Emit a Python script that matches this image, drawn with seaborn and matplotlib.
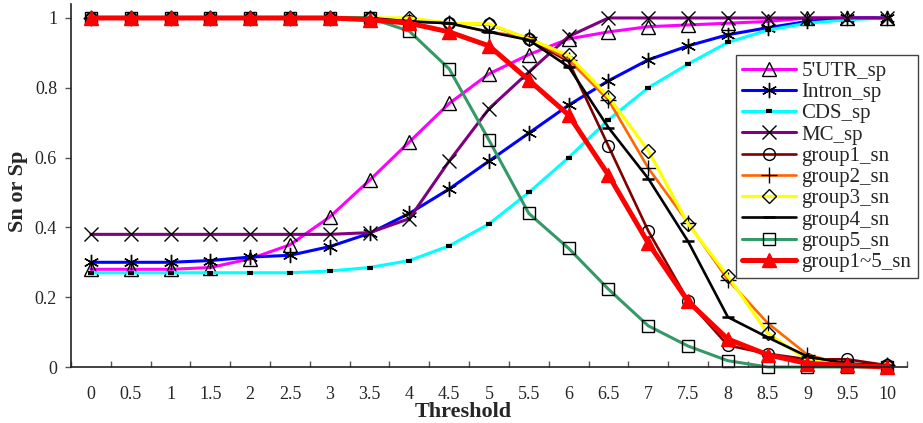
import numpy as np
import pandas as pd
import matplotlib
matplotlib.use("Agg")
import matplotlib.pyplot as plt
import seaborn as sns

thresholds = [0, 0.5, 1, 1.5, 2, 2.5, 3, 3.5, 4, 4.5, 5,
              5.5, 6, 6.5, 7, 7.5, 8, 8.5, 9, 9.5, 10]
tick_labels = ["0", "0.5", "1", "1.5", "2", "2.5", "3", "3.5", "4", "4.5", "5",
               "5.5", "6", "6.5", "7", "7.5", "8", "8.5", "9", "9.5", "10"]

utr5_sp = [0.28, 0.28, 0.28, 0.285, 0.31, 0.35, 0.43, 0.535, 0.645, 0.755, 0.84,
           0.895, 0.94, 0.96, 0.975, 0.98, 0.985, 0.99, 1.0, 1.0, 1.0]
intron_sp = [0.30, 0.30, 0.30, 0.305, 0.315, 0.32, 0.345, 0.383, 0.44, 0.51, 0.59,
             0.67, 0.75, 0.82, 0.88, 0.92, 0.952, 0.972, 0.99, 1.0, 1.0]
cds_sp = [0.27, 0.27, 0.27, 0.27, 0.27, 0.27, 0.275, 0.285, 0.305, 0.347, 0.41,
          0.50, 0.60, 0.708, 0.80, 0.868, 0.93, 0.965, 0.985, 0.995, 1.0]
mc_sp = [0.38, 0.38, 0.38, 0.38, 0.38, 0.38, 0.38, 0.385, 0.425, 0.59, 0.74,
         0.845, 0.947, 1.0, 1.0, 1.0, 1.0, 1.0, 1.0, 1.0, 1.0]
group1_sn = [1.0, 1.0, 1.0, 1.0, 1.0, 1.0, 1.0, 1.0, 0.992, 0.985, 0.982,
             0.94, 0.875, 0.633, 0.39, 0.19, 0.062, 0.038, 0.022, 0.022, 0.005]
group2_sn = [1.0, 1.0, 1.0, 1.0, 1.0, 1.0, 1.0, 1.0, 0.99, 0.985, 0.96,
             0.945, 0.88, 0.765, 0.57, 0.413, 0.25, 0.126, 0.035, 0.005, 0.005]
group3_sn = [1.0, 1.0, 1.0, 1.0, 1.0, 1.0, 1.0, 1.0, 1.0, 0.985, 0.983,
             0.94, 0.893, 0.774, 0.62, 0.41, 0.26, 0.097, 0.02, 0.005, 0.005]
group4_sn = [1.0, 1.0, 1.0, 1.0, 1.0, 1.0, 1.0, 1.0, 0.99, 0.985, 0.96,
             0.937, 0.86, 0.686, 0.54, 0.36, 0.143, 0.085, 0.03, 0.01, 0.005]
group5_sn = [1.0, 1.0, 1.0, 1.0, 1.0, 1.0, 1.0, 1.0, 0.962, 0.854, 0.65,
             0.44, 0.34, 0.223, 0.118, 0.06, 0.018, 0.0, 0.0, 0.0, 0.0]
group1to5_sn = [1.0, 1.0, 1.0, 1.0, 1.0, 1.0, 1.0, 0.995, 0.985, 0.96, 0.92,
                0.822, 0.722, 0.55, 0.355, 0.188, 0.08, 0.035, 0.01, 0.005, 0.0]

# name, values, line colour, marker, line width, marker size, face, edge, edge width
series = [
    ("5'UTR_sp", utr5_sp, "#FF00FF", "^", 2.2, 9.5, "none", "black", 1.0),
    ("Intron_sp", intron_sp, "#0000FF", (6, 2, 0), 2.2, 11, "black", "black", 1.0),
    ("CDS_sp", cds_sp, "#00FFFF", "_", 2.2, 5, "black", "black", 3.0),
    ("MC_sp", mc_sp, "#800080", "x", 2.2, 9.5, "black", "black", 1.0),
    ("group1_sn", group1_sn, "#800000", "o", 1.9, 8.5, "none", "black", 1.0),
    ("group2_sn", group2_sn, "#FF6600", "+", 1.9, 11, "black", "black", 1.0),
    ("group3_sn", group3_sn, "#FFFF00", "D", 2.3, 7, "none", "black", 1.0),
    ("group4_sn", group4_sn, "#000000", "_", 1.9, 9, "black", "black", 1.8),
    ("group5_sn", group5_sn, "#339966", "s", 2.2, 8.5, "none", "black", 1.0),
    ("group1~5_sn", group1to5_sn, "#FF0000", "^", 3.6, 10, "#FF0000", "#FF0000", 1.0),
]

sns.set_theme(style="white")
plt.rcParams["font.family"] = ["Liberation Serif", "DejaVu Serif"]

fig = plt.figure(figsize=(9.23, 4.23), dpi=100)
ax = fig.add_axes([71 / 923, 1 - 367 / 423, (907 - 71) / 923, (367 - 4) / 423])

for name, vals, color, marker, lw, ms, mfc, mec, mew in series:
    df = pd.DataFrame({"Threshold": thresholds, "value": vals})
    sns.lineplot(data=df, x="Threshold", y="value", ax=ax, color=color,
                 linewidth=lw, marker=marker, markersize=ms,
                 markerfacecolor=mfc, markeredgecolor=mec, markeredgewidth=mew,
                 label=name, clip_on=False)

ax.set_xlim(-0.25, 10.25)
ax.set_ylim(0, 1.04)

ax.set_xticks(thresholds)
ax.set_xticklabels(tick_labels)
ax.set_xticks(np.arange(-0.25, 10.3, 0.5), minor=True)
ax.tick_params(axis="x", which="major", length=0, pad=14, labelsize=13)
ax.tick_params(axis="x", which="minor", direction="in", length=4, width=1,
               color="#555555", bottom=True)

ax.set_yticks([0, 0.2, 0.4, 0.6, 0.8, 1.0])
ax.set_yticklabels(["0", "0.2", "0.4", "0.6", "0.8", "1"])
ax.tick_params(axis="y", which="major", direction="out", length=4, width=1,
               color="#555555", left=True, labelsize=13, pad=6)

for side in ("top", "right"):
    ax.spines[side].set_visible(False)
for side in ("left", "bottom"):
    ax.spines[side].set_color("#222222")
    ax.spines[side].set_linewidth(1.2)

ax.set_xlabel("Threshold", fontsize=16, fontweight="bold")
ax.xaxis.set_label_coords((463 - 71) / 836, (367 - 412) / 363)
ax.xaxis.label.set_va("center")
ax.set_ylabel("Sn or Sp", fontsize=16, fontweight="bold")
ax.yaxis.set_label_coords((18 - 71) / 836, (367 - 191) / 363)
ax.yaxis.label.set_va("center")

leg = ax.legend(loc="upper left", bbox_to_anchor=(736 / 923, 1 - 55 / 423),
                bbox_transform=fig.transFigure, fontsize=15, frameon=True,
                fancybox=False, edgecolor="#444444", framealpha=1,
                handlelength=2.6, handletextpad=0.25, labelspacing=0.08,
                borderpad=0.3, borderaxespad=0)
leg.get_frame().set_linewidth(1.0)

fig.savefig("out.png", dpi=100, facecolor="white")
